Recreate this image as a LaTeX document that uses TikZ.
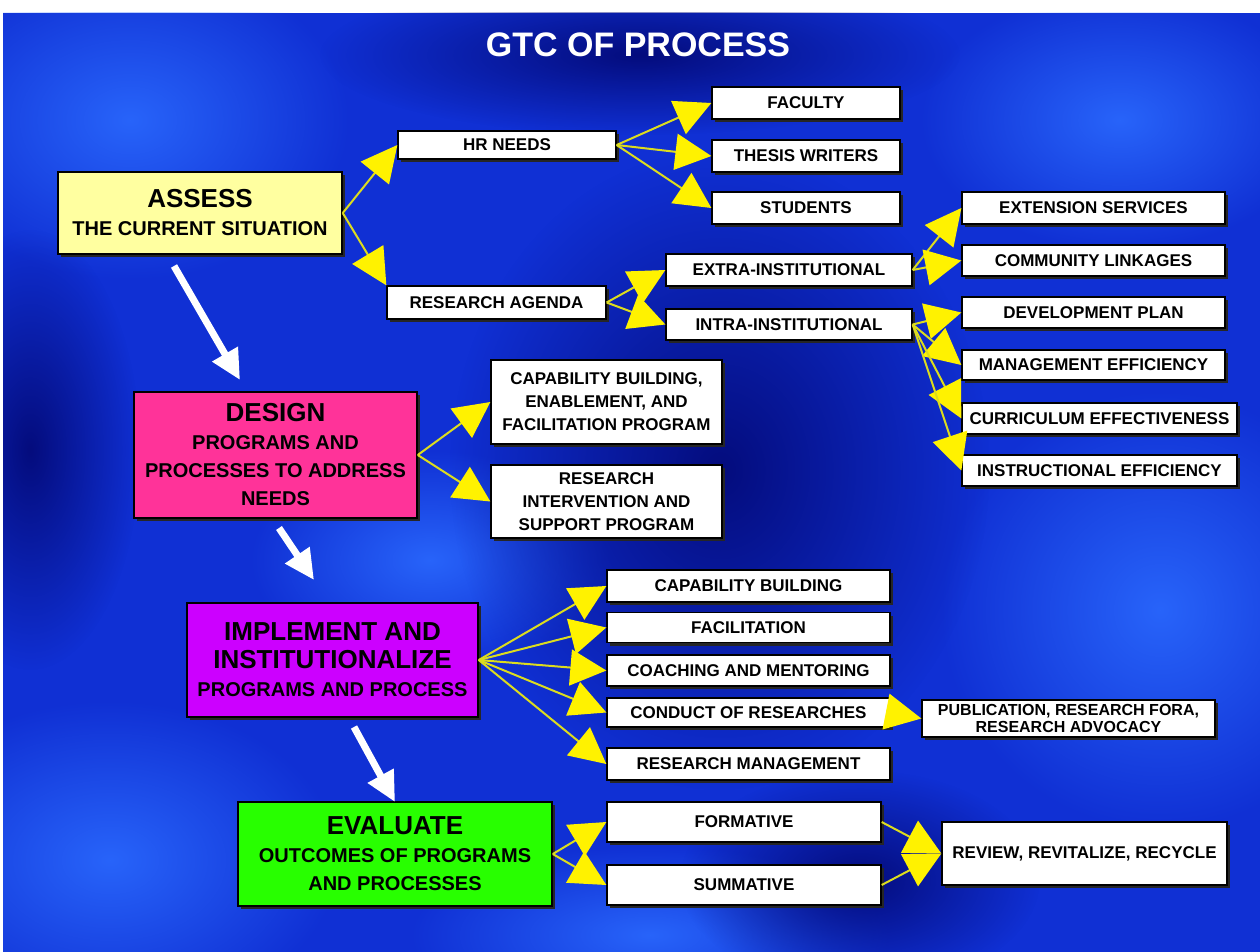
\documentclass[tikz,border=0pt]{standalone}
\usepackage{fontspec}
\setmainfont{Liberation Sans}
\usetikzlibrary{arrows.meta,shadows,fadings,calc}
\definecolor{bgmid}{RGB}{16,48,212}
\definecolor{bgdark}{RGB}{4,12,125}
\definecolor{bglight}{RGB}{40,100,250}
\definecolor{lineyel}{RGB}{220,220,30}
\definecolor{assessc}{RGB}{255,255,160}
\definecolor{designc}{RGB}{255,51,153}
\definecolor{implc}{RGB}{204,0,255}
\definecolor{evalc}{RGB}{40,255,0}
\tikzfading[name=soft, inner color=transparent!0, outer color=transparent!100]
\begin{document}
\begin{tikzpicture}[x=1pt,y=-1pt,
  wbox/.style={draw=black, line width=1.3pt, fill=white, inner sep=2pt, align=center,
    font=\bfseries\fontsize{17}{23}\selectfont,
    drop shadow={shadow xshift=3pt, shadow yshift=-3pt, fill=black!85, opacity=1}},
  cbox/.style={draw=black, line width=1.5pt, inner sep=2pt, align=center,
    font=\bfseries\fontsize{20}{28}\selectfont,
    drop shadow={shadow xshift=3pt, shadow yshift=-3pt, fill=black!85, opacity=1}},
  yarrow/.style={draw=lineyel, line width=2pt, -{Triangle[length=36pt,width=36pt,color=yellow]}},
  warrow/.style={draw=white, line width=7pt, -{Triangle[length=30pt,width=28pt]}}
]
\useasboundingbox (0,0) rectangle (1260,952);
% background
\fill[white] (0,0) rectangle (1260,952);
\fill[bgmid] (3,13) rectangle (1260,952);
\begin{scope}
  \clip (3,13) rectangle (1260,952);
  \fill[bglight, path fading=soft] (130,120) ellipse (220 and 160);
  \fill[bglight, path fading=soft] (1120,120) ellipse (200 and 130);
  \fill[bglight, path fading=soft] (1160,610) ellipse (220 and 220);
  \fill[bglight, path fading=soft] (110,860) ellipse (230 and 160);
  \fill[bglight, path fading=soft] (650,935) ellipse (240 and 90);
  \fill[bglight, path fading=soft] (430,560) ellipse (180 and 110);
  \fill[bgdark, path fading=soft] (720,470) ellipse (270 and 320);
  \fill[bgdark, path fading=soft] (640,55) ellipse (320 and 80);
  \fill[bgdark, path fading=soft] (860,880) ellipse (180 and 110);
  \fill[bgdark, path fading=soft] (30,450) ellipse (110 and 220);
\end{scope}
% title
\node[text=white, font=\bfseries\fontsize{34}{40}\selectfont] (title) at (638,45) {GTC OF PROCESS};
% main stage boxes
\node[cbox, fill=assessc, minimum width=284pt, minimum height=82pt] (assess) at (200,213)
  {{\fontsize{26}{30}\selectfont ASSESS}\\THE CURRENT SITUATION};
\node[cbox, fill=designc, minimum width=283pt, minimum height=126pt] (design) at (275.5,455)
  {{\fontsize{26}{30}\selectfont DESIGN}\\PROGRAMS AND\\PROCESSES TO ADDRESS\\NEEDS};
\node[cbox, fill=implc, minimum width=291pt, minimum height=114pt] (impl) at (332.5,660)
  {{\fontsize{26}{30}\selectfont IMPLEMENT AND}\\{\fontsize{26}{30}\selectfont INSTITUTIONALIZE}\\PROGRAMS AND PROCESS};
\node[cbox, fill=evalc, minimum width=314pt, minimum height=104pt] (eval) at (395,854)
  {{\fontsize{26}{30}\selectfont EVALUATE}\\OUTCOMES OF PROGRAMS\\AND PROCESSES};
% assess branch
\node[wbox, minimum width=218pt, minimum height=28pt] (hr) at (507,145) {HR NEEDS};
\node[wbox, minimum width=188pt, minimum height=32pt] (fac) at (806,103) {FACULTY};
\node[wbox, minimum width=188pt, minimum height=32pt] (thes) at (806,156) {THESIS WRITERS};
\node[wbox, minimum width=188pt, minimum height=32pt] (stud) at (806,208) {STUDENTS};
\node[wbox, minimum width=219pt, minimum height=33pt] (ra) at (496.5,302.5) {RESEARCH AGENDA};
\node[wbox, minimum width=246pt, minimum height=32pt] (extra) at (789,270) {EXTRA-INSTITUTIONAL};
\node[wbox, minimum width=246pt, minimum height=31pt] (intra) at (789,324.5) {INTRA-INSTITUTIONAL};
\node[wbox, minimum width=263pt, minimum height=32pt] (ext) at (1093.5,208) {EXTENSION SERVICES};
\node[wbox, minimum width=263pt, minimum height=31pt] (com) at (1093.5,260.5) {COMMUNITY LINKAGES};
\node[wbox, minimum width=263pt, minimum height=31pt] (dev) at (1093.5,312.5) {DEVELOPMENT PLAN};
\node[wbox, minimum width=263pt, minimum height=30pt] (man) at (1093.5,365) {MANAGEMENT EFFICIENCY};
\node[wbox, minimum width=275pt, minimum height=31pt] (cur) at (1099.5,418.5) {CURRICULUM EFFECTIVENESS};
\node[wbox, minimum width=275pt, minimum height=31pt] (ins) at (1099.5,470.5) {INSTRUCTIONAL EFFICIENCY};
% design branch
\node[wbox, minimum width=231pt, minimum height=84pt] (cap1) at (606.5,402)
  {CAPABILITY BUILDING,\\ENABLEMENT, AND\\FACILITATION PROGRAM};
\node[wbox, minimum width=231pt, minimum height=73pt] (resint) at (606.5,501.5)
  {RESEARCH\\INTERVENTION AND\\SUPPORT PROGRAM};
% implement branch
\node[wbox, minimum width=283pt, minimum height=32pt] (capb) at (748.5,586) {CAPABILITY BUILDING};
\node[wbox, minimum width=283pt, minimum height=30pt] (facil) at (748.5,627.5) {FACILITATION};
\node[wbox, minimum width=283pt, minimum height=31pt] (coach) at (748.5,670.5) {COACHING AND MENTORING};
\node[wbox, minimum width=283pt, minimum height=29pt] (cond) at (748.5,712.5) {CONDUCT OF RESEARCHES};
\node[wbox, minimum width=283pt, minimum height=32pt] (resman) at (748.5,764) {RESEARCH MANAGEMENT};
\node[wbox, minimum width=293pt, minimum height=37pt, font=\bfseries\fontsize{16}{17}\selectfont] (pub) at (1068.5,718.5)
  {PUBLICATION, RESEARCH FORA,\\RESEARCH ADVOCACY};
% evaluate branch
\node[wbox, minimum width=274pt, minimum height=40pt] (form) at (744,822) {FORMATIVE};
\node[wbox, minimum width=274pt, minimum height=40pt] (summ) at (744,885) {SUMMATIVE};
\node[wbox, minimum width=285pt, minimum height=63pt] (rev) at (1084.5,853.5) {REVIEW, REVITALIZE, RECYCLE};
% yellow connectors
\draw[yarrow] (assess.east) -- (hr.west);
\draw[yarrow] (assess.east) -- (ra.north west);
\draw[yarrow] (hr.east) -- (fac.west);
\draw[yarrow] (hr.east) -- (thes.west);
\draw[yarrow] (hr.east) -- (stud.west);
\draw[yarrow] (ra.east) -- (extra.west);
\draw[yarrow] (ra.east) -- (intra.west);
\draw[yarrow] (extra.east) -- (ext.west);
\draw[yarrow] (extra.east) -- (com.west);
\draw[yarrow] (intra.east) -- (dev.west);
\draw[yarrow] (intra.east) -- (man.west);
\draw[yarrow] (intra.east) -- (cur.west);
\draw[yarrow] (intra.east) -- (ins.west);
\draw[yarrow] (design.east) -- (cap1.west);
\draw[yarrow] (design.east) -- (resint.west);
\draw[yarrow] (impl.east) -- (capb.west);
\draw[yarrow] (impl.east) -- (facil.west);
\draw[yarrow] (impl.east) -- (coach.west);
\draw[yarrow] (impl.east) -- (cond.west);
\draw[yarrow] (impl.east) -- (resman.west);
\draw[yarrow] (cond.east) -- (pub.west);
\draw[yarrow] (eval.east) -- (form.west);
\draw[yarrow] (eval.east) -- (summ.west);
\draw[yarrow] (form.east) -- (rev.west);
\draw[yarrow] (summ.east) -- (rev.west);
% white stage arrows
\coordinate (w1a) at (174,266);
\coordinate (w1b) at (240,380);
\coordinate (w2a) at (279,528);
\coordinate (w2b) at (314,580);
\coordinate (w3a) at (354,727);
\coordinate (w3b) at (395,802);
\draw[warrow] (w1a) -- (w1b);
\draw[warrow] (w2a) -- (w2b);
\draw[warrow] (w3a) -- (w3b);
\end{tikzpicture}
\end{document}
